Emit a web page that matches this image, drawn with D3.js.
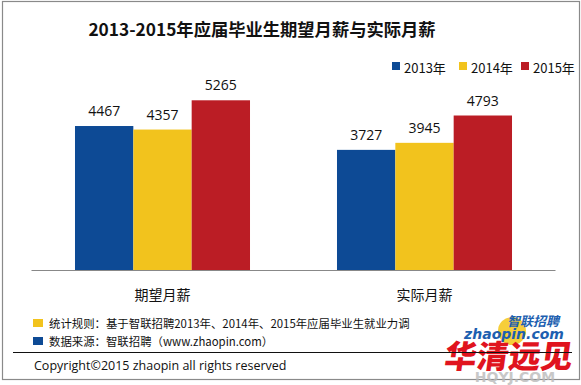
<!DOCTYPE html>
<meta charset="utf-8">
<html>
<head>
<meta charset="utf-8">
<title>salary chart</title>
</head>
<style>
  body { margin: 0; background: #fff; }
  svg { display: block; font-family: "Noto Sans CJK SC", "Noto Sans", sans-serif; }
</style>
<body>
<svg width="581" height="385"></svg>
<script src="https://d3js.org/d3.v7.min.js"></script>
<script>

var categories = ["期望月薪", "实际月薪"];
var years = ["2013年", "2014年", "2015年"];
var s2013 = [4467, 3727];
var s2014 = [4357, 3945];
var s2015 = [5265, 4793];
var colors = ["#0d4a95", "#f2c31d", "#bb1d25"];
var notes = [
  "统计规则：基于智联招聘2013年、2014年、2015年应届毕业生就业力调",
  "数据来源：智联招聘（www.zhaopin.com）"
];

var series = [s2013, s2014, s2015];

var svg = d3.select("svg"),
    width = +svg.attr("width"),
    height = +svg.attr("height");

// outer frame
svg.append("rect")
    .attr("x", 2.5).attr("y", 1.5)
    .attr("width", 577).attr("height", 378)
    .attr("fill", "none").attr("stroke", "#8a8a8a").attr("stroke-width", 1.2);

// title
svg.append("text")
    .attr("x", 262).attr("y", 36)
    .attr("text-anchor", "middle")
    .attr("font-size", 17.3).attr("font-weight", "bold")
    .attr("fill", "#111")
    .text("2013-2015年应届毕业生期望月薪与实际月薪");

var x0 = d3.scaleBand()
    .domain(categories)
    .range([31.5, 555.5])
    .paddingInner(0.332)
    .paddingOuter(0.166);

var x1 = d3.scaleBand()
    .domain(d3.range(years.length))
    .range([0, x0.bandwidth()]);

var y = d3.scaleLinear()
    .domain([0, 6000])
    .range([270, 76.6]);

var groups = svg.append("g").selectAll("g")
  .data(categories)
  .enter().append("g")
    .attr("transform", function(d) { return "translate(" + x0(d) + ",0)"; });

groups.selectAll("rect")
  .data(function(d, i) { return series.map(function(s, j) { return {k: j, v: s[i]}; }); })
  .enter().append("rect")
    .attr("x", function(d) { return x1(d.k); })
    .attr("width", x1.bandwidth())
    .attr("y", function(d) { return y(d.v); })
    .attr("height", function(d) { return y(0) - y(d.v); })
    .attr("fill", function(d) { return colors[d.k]; });

groups.selectAll("text.val")
  .data(function(d, i) { return series.map(function(s, j) { return {k: j, v: s[i]}; }); })
  .enter().append("text")
    .attr("class", "val")
    .attr("x", function(d) { return x1(d.k) + x1.bandwidth() / 2; })
    .attr("y", function(d) { return y(d.v) - 10; })
    .attr("text-anchor", "middle")
    .attr("font-family", "'Open Sans', sans-serif")
    .attr("font-size", 14)
    .attr("fill", "#111")
    .text(function(d) { return d.v; });

// baseline
svg.append("line")
    .attr("x1", 31.5).attr("x2", 555.5)
    .attr("y1", y(0) + 0.5).attr("y2", y(0) + 0.5)
    .attr("stroke", "#888").attr("stroke-width", 1.2);

// category labels
svg.selectAll("text.cat")
  .data(categories)
  .enter().append("text")
    .attr("class", "cat")
    .attr("x", function(d) { return x0(d) + x0.bandwidth() / 2; })
    .attr("y", 300)
    .attr("text-anchor", "middle")
    .attr("font-size", 14)
    .attr("fill", "#111")
    .text(function(d) { return d; });

// legend
var legendX = [392, 459, 521];
var legend = svg.append("g").selectAll("g")
  .data(years)
  .enter().append("g")
    .attr("transform", function(d, i) { return "translate(" + legendX[i] + ",62)"; });
legend.append("rect")
    .attr("width", 8).attr("height", 8)
    .attr("fill", function(d, i) { return colors[i]; });
legend.append("text")
    .attr("x", 12).attr("y", 10.5)
    .attr("font-size", 13)
    .attr("fill", "#111")
    .text(function(d) { return d; });

// watermark logo
var wm = svg.append("g");
wm.append("circle").attr("cx", 512).attr("cy", 331).attr("r", 14).attr("fill", "#f5c518").attr("opacity", 0.85);
wm.append("text").attr("x", 533).attr("y", 326)
    .attr("text-anchor", "middle").attr("font-size", 13).attr("font-weight", "bold")
    .attr("font-style", "italic").attr("fill", "#1d5fb0").text("智联招聘");
wm.append("text").attr("x", 514).attr("y", 339)
    .attr("text-anchor", "middle").attr("font-family", "'DejaVu Sans', sans-serif")
    .attr("font-size", 14).attr("font-weight", "bold")
    .attr("font-style", "italic").attr("fill", "#1d5fb0").text("zhaopin.com");

// footnotes
var noteColors = [colors[1], colors[0]];
var foot = svg.append("g").selectAll("g")
  .data(notes)
  .enter().append("g")
    .attr("transform", function(d, i) { return "translate(33," + (319 + i * 18) + ")"; });
foot.append("rect")
    .attr("width", 10).attr("height", 8)
    .attr("fill", function(d, i) { return noteColors[i]; });
foot.append("text")
    .attr("x", 16).attr("y", 9)
    .attr("font-size", 11.4)
    .attr("fill", "#111")
    .text(function(d) { return d; });

// divider and copyright
svg.append("line")
    .attr("x1", 13).attr("x2", 572)
    .attr("y1", 352.5).attr("y2", 352.5)
    .attr("stroke", "#111").attr("stroke-width", 1);
svg.append("text")
    .attr("x", 34).attr("y", 370)
    .attr("font-family", "'Open Sans', sans-serif")
    .attr("font-size", 12.5)
    .attr("fill", "#111")
    .text("Copyright©2015 zhaopin all rights reserved");

// red watermark
wm.append("text").attr("x", 508).attr("y", 368)
    .attr("text-anchor", "middle").attr("font-size", 32).attr("font-weight", "900")
    .attr("fill", "#e0141e").attr("transform", "skewX(-8) translate(51,0)")
    .text("华清远见");
wm.append("text").attr("x", 515).attr("y", 382)
    .attr("text-anchor", "middle").attr("font-family", "'DejaVu Sans', sans-serif")
    .attr("font-size", 14).attr("font-weight", "bold")
    .attr("fill", "#bbb").attr("opacity", 0.8).text("HQYJ.COM");

</script>
</body>
</html>
